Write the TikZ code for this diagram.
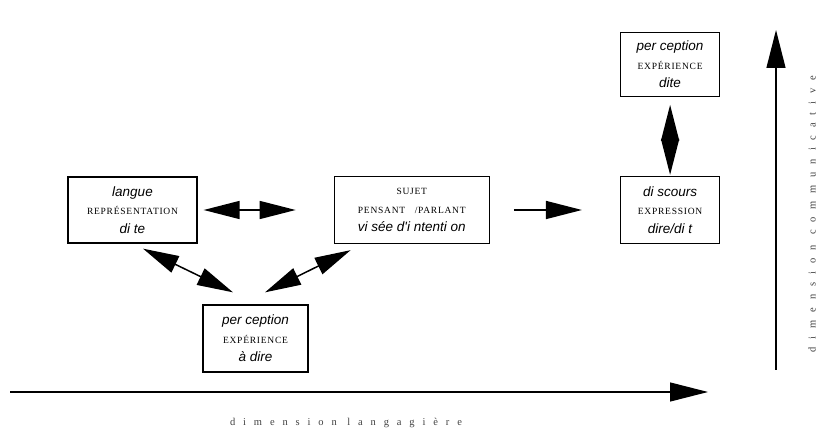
\documentclass[tikz,border=0pt]{standalone}
\usepackage{fontspec}
\setmainfont{Liberation Serif}
\newfontfamily\boxsans{Liberation Sans}
\newfontfamily\boxcaps[LetterSpace=8]{Liberation Serif}
\newfontfamily\axisfont[LetterSpace=75]{Liberation Serif}
\usetikzlibrary{arrows.meta,positioning}

\newcommand\mot[1]{{\boxsans\itshape\fontsize{13.5}{15}\selectfont #1}}
\newcommand\petit[1]{{\boxcaps\fontsize{9.5}{11}\selectfont #1}}

\begin{document}
\begin{tikzpicture}[x=1pt,y=-1pt,
    boite/.style={draw, line width=1.3pt, align=center, inner sep=0pt,
      font=\fontsize{12}{18.5}\selectfont},
    fleche/.style={line width=1.5pt, -{Triangle[length=36pt,width=18pt]}},
    double fleche/.style={line width=1.5pt,
      {Triangle[length=36pt,width=18pt]}-{Triangle[length=36pt,width=18pt]}},
    axe/.style={line width=1.2pt, -{Triangle[length=38pt,width=19pt]}},
    legende/.style={font=\axisfont\fontsize{10.5}{12}\selectfont, text=black!75}]
  \useasboundingbox (0,0) rectangle (822,435);

  \node [boite, minimum width=129pt, minimum height=66pt] (langue) at (132.5,210)
    {\mot{langue}\\ \petit{REPRÉSENTATION}\\ \mot{di te}};
  \node [boite, minimum width=155pt, minimum height=67pt] (sujet) [right=136pt of langue]
    {\petit{SUJET}\\ \petit{PENSANT\quad/PARLANT}\\ \mot{vi sée d'i ntenti on}};
  \node [boite, minimum width=99pt, minimum height=67pt] (discours) [right=130pt of sujet]
    {\mot{di scours}\\ \petit{EXPRESSION}\\ \mot{dire/di t}};
  \node [boite, minimum width=99pt, minimum height=64pt] (dite) [above=79pt of discours]
    {\mot{per ception}\\ \petit{EXPÉRIENCE}\\ \mot{dite}};
  \node [boite, minimum width=105pt, minimum height=67pt] (adire) at (255.5,338.5)
    {\mot{per ception}\\ \petit{EXPÉRIENCE}\\ \mot{à dire}};

  % relations entre les boites
  \draw [double fleche, shorten <=6pt, shorten >=38pt]
    (langue.east) -- (langue.east -| sujet.west);
  \draw [fleche, shorten <=24pt, shorten >=38pt]
    (sujet.east) -- (sujet.east -| discours.west);
  \draw [double fleche, shorten <=8pt, shorten >=1pt] (dite.south) -- (discours.north);
  \draw [double fleche] ([shift={(10.5,5)}]langue.south) -- ([shift={(-22.5,-12)}]adire.north);
  \draw [double fleche] ([shift={(17,6)}]sujet.south west) -- ([shift={(9.5,-12)}]adire.north);

  % les deux dimensions
  \coordinate (origine x) at (10,392);
  \coordinate (fin x) at (708,392);
  \coordinate (origine y) at (776,370);
  \coordinate (fin y) at (776,30);
  \draw [axe] (origine x) -- (fin x);
  \draw [axe] (origine y) -- (fin y);
  \node [legende] (langagiere) at (346,423) {dimension langagière};
  \node [legende, rotate=90] (communicative) at (812,214) {dimension communicative};
\end{tikzpicture}
\end{document}
